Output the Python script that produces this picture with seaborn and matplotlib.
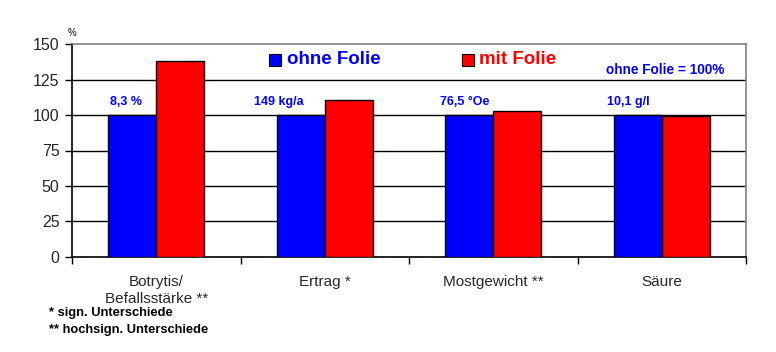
import matplotlib
matplotlib.use("Agg")
import matplotlib.pyplot as plt
import seaborn as sns
import pandas as pd

categories = ["Botrytis/\nBefallsstärke **", "Ertrag *", "Mostgewicht **", "Säure"]
ohne_folie = [100, 100, 100, 100]
mit_folie = [138.2, 110.7, 103.0, 99.3]
base_labels = ["8,3 %", "149 kg/a", "76,5 °Oe", "10,1 g/l"]
series = ["ohne Folie", "mit Folie"]
colors = ["#0000FF", "#FF0000"]
yticks = [0, 25, 50, 75, 100, 125, 150]

df = pd.DataFrame({
    "Kategorie": categories * 2,
    "Wert": ohne_folie + mit_folie,
    "Serie": [series[0]] * len(categories) + [series[1]] * len(categories),
})

sns.set_style("white")
plt.rcParams["font.family"] = ["Liberation Sans", "DejaVu Sans"]

fig = plt.figure(figsize=(7.76, 3.52), dpi=100)
ax = fig.add_axes([72 / 776, 1 - 256.7 / 352, (746 - 72) / 776, (256.7 - 44.3) / 352])

sns.barplot(data=df, x="Kategorie", y="Wert", hue="Serie", palette=colors,
            saturation=1, width=0.57, edgecolor="black", linewidth=1.0, ax=ax,
            legend=False, zorder=3)

ax.set_ylim(0, 150)
ax.set_xlim(-0.5, len(categories) - 0.5)
ax.set_yticks(yticks)
ax.set_yticklabels([str(v) for v in yticks], fontsize=11.5)
for v in yticks[1:-1]:
    ax.axhline(v, color="black", linewidth=1.0, zorder=1)

# x ticks at category boundaries, labels centered
ax.set_xticks([i + 0.5 for i in range(-1, len(categories))])
ax.set_xticklabels([""] * (len(categories) + 1))
ax.set_xticks(range(len(categories)), minor=True)
ax.set_xticklabels(categories, minor=True, fontsize=11, linespacing=1.3)
ax.tick_params(axis="x", which="minor", length=0, pad=13)
ax.tick_params(axis="x", which="major", direction="out", length=5, width=1, color="black", bottom=True)
ax.tick_params(axis="y", direction="out", length=5, width=1, color="black", left=True, pad=4)
ax.set_xlabel("")
ax.set_ylabel("")

for side in ["top", "right"]:
    ax.spines[side].set_color("#808080")
    ax.spines[side].set_linewidth(1.2)
for side in ["left", "bottom"]:
    ax.spines[side].set_color("black")
    ax.spines[side].set_linewidth(1.2)

# base value labels above blue bars
label_x = [-0.177, 0.728, 1.832, 2.80]
for xpos, txt in zip(label_x, base_labels):
    ax.text(xpos, 109, txt, color="#0000FF", fontsize=9, fontweight="bold",
            ha="center", va="center", zorder=4)

def fx(px):
    return px / 776
def fy(py):
    return 1 - py / 352

fig.patches.append(plt.Rectangle((fx(269), fy(66)), 12 / 776, 12 / 352,
                                 facecolor="#0000FF", edgecolor="black", linewidth=0.8,
                                 transform=fig.transFigure, figure=fig))
fig.text(fx(287), fy(60), "ohne Folie", color="#0000FF", fontsize=13.5,
         fontweight="bold", ha="left", va="center")
fig.patches.append(plt.Rectangle((fx(462), fy(66)), 12 / 776, 12 / 352,
                                 facecolor="#FF0000", edgecolor="black", linewidth=0.8,
                                 transform=fig.transFigure, figure=fig))
fig.text(fx(479), fy(60), "mit Folie", color="#FF0000", fontsize=13.5,
         fontweight="bold", ha="left", va="center")
fig.text(fx(606), fy(70), "ohne Folie = 100%", color="#0000FF", fontsize=9.8,
         fontweight="bold", ha="left", va="center")

fig.text(fx(68), fy(33), "%", color="black", fontsize=7, ha="left", va="center")

fig.text(fx(49), fy(313), "* sign. Unterschiede", color="black", fontsize=9.3,
         fontweight="bold", ha="left", va="center")
fig.text(fx(49), fy(330), "** hochsign. Unterschiede", color="black", fontsize=9.3,
         fontweight="bold", ha="left", va="center")

fig.savefig("out.png", dpi=100)
